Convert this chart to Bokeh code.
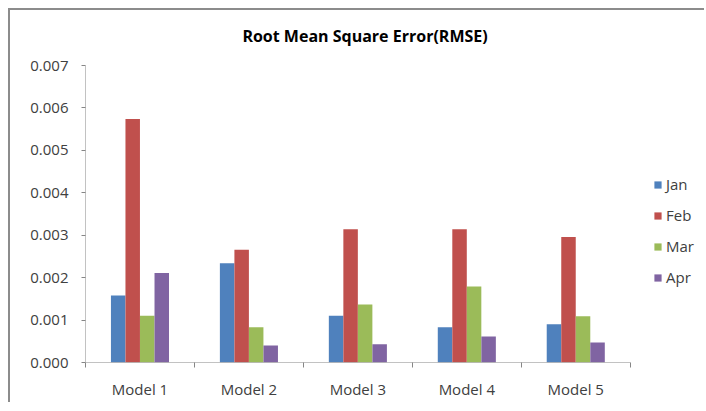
from bokeh.plotting import figure
from bokeh.models import ColumnDataSource, FixedTicker, Label, Legend, LegendItem, NumeralTickFormatter, Range1d
from bokeh.transform import dodge
from bokeh.embed import file_html
from bokeh.resources import INLINE

models = ['Model 1', 'Model 2', 'Model 3', 'Model 4', 'Model 5']
months = ['Jan', 'Feb', 'Mar', 'Apr']
jan = [0.00158, 0.00234, 0.00110, 0.00083, 0.00090]
feb = [0.00574, 0.00266, 0.00314, 0.00314, 0.00296]
mar = [0.00110, 0.00083, 0.00137, 0.00179, 0.00109]
apr = [0.00211, 0.00040, 0.00043, 0.00061, 0.00047]
y_ticks = [0.0, 0.001, 0.002, 0.003, 0.004, 0.005, 0.006, 0.007]
title = "Root Mean Square Error(RMSE)"

colors = ['#4F81BD', '#C0504D', '#9BBB59', '#8064A2']
font = 'Open Sans'
txt = '#404040'
axis_col = '#868686'

n = len(models)
pos = list(range(1, n+1))
y_top = y_ticks[-1]
source = ColumnDataSource(data=dict(x=pos, Jan=jan, Feb=feb, Mar=mar, Apr=apr))

# frame fills the whole box so title and legend can live inside it
p = figure(width=696, height=394, title=None,
           x_range=Range1d(0.5, n + 1.2), y_range=Range1d(0, y_top * 1.172),
           output_backend="svg", toolbar_location=None,
           min_border_left=75, min_border_top=4, min_border_bottom=42, min_border_right=0)
p.styles = {"margin-left": "8px", "margin-top": "8px",
            "border-top": "2px solid #8c8c8c", "border-left": "2px solid #8c8c8c"}

bw = 0.133
offsets = [-0.2, -0.0667, 0.0667, 0.2]
items = []
for m, c, off in zip(months, colors, offsets):
    r = p.vbar(x=dodge('x', off), top=m, width=bw, source=source, fill_color=c, line_color=None)
    items.append(LegendItem(label=m, renderers=[r]))

# axis lines only as long as the data area
p.segment(x0=[0.5], y0=[0], x1=[n + 0.5], y1=[0], line_color=axis_col, line_width=1)
p.segment(x0=[0.5], y0=[0], x1=[0.5], y1=[y_top], line_color=axis_col, line_width=1)

p.add_layout(Label(x=1.94, y=y_top * 1.101, text=title, text_align='left', text_baseline='middle',
                   text_font=font, text_font_size='16px', text_font_style='bold', text_color='#000000'))

legend = Legend(items=items, location=(568, 75), border_line_color=None, background_fill_alpha=0,
                padding=0, margin=0, spacing=11, glyph_width=9, glyph_height=9, label_standoff=4,
                label_text_font=font, label_text_font_size='15px', label_text_color=txt, label_height=20)
p.add_layout(legend, 'center')

p.xgrid.visible = False
p.ygrid.visible = False
p.outline_line_color = None

p.xaxis.ticker = FixedTicker(ticks=pos, minor_ticks=[x - 0.5 for x in pos] + [n + 0.5])
p.xaxis.major_label_overrides = {x: m for x, m in zip(pos, models)}
p.xaxis.major_tick_out = 0
p.xaxis.major_tick_in = 0
p.xaxis.minor_tick_out = 5
p.xaxis.minor_tick_in = 0
p.xaxis.minor_tick_line_color = axis_col
p.xaxis.axis_line_color = None
p.xaxis.major_label_standoff = 11
p.xaxis.major_label_text_font = font
p.xaxis.major_label_text_font_size = '15px'
p.xaxis.major_label_text_color = txt

p.yaxis.ticker = FixedTicker(ticks=y_ticks, minor_ticks=[])
p.yaxis.formatter = NumeralTickFormatter(format='0.000')
p.yaxis.major_tick_out = 4
p.yaxis.major_tick_in = 0
p.yaxis.major_tick_line_color = axis_col
p.yaxis.axis_line_color = None
p.yaxis.major_label_standoff = 13
p.yaxis.major_label_text_font = font
p.yaxis.major_label_text_font_size = '15px'
p.yaxis.major_label_text_color = txt

open("out.html", "w").write(file_html(p, INLINE))
